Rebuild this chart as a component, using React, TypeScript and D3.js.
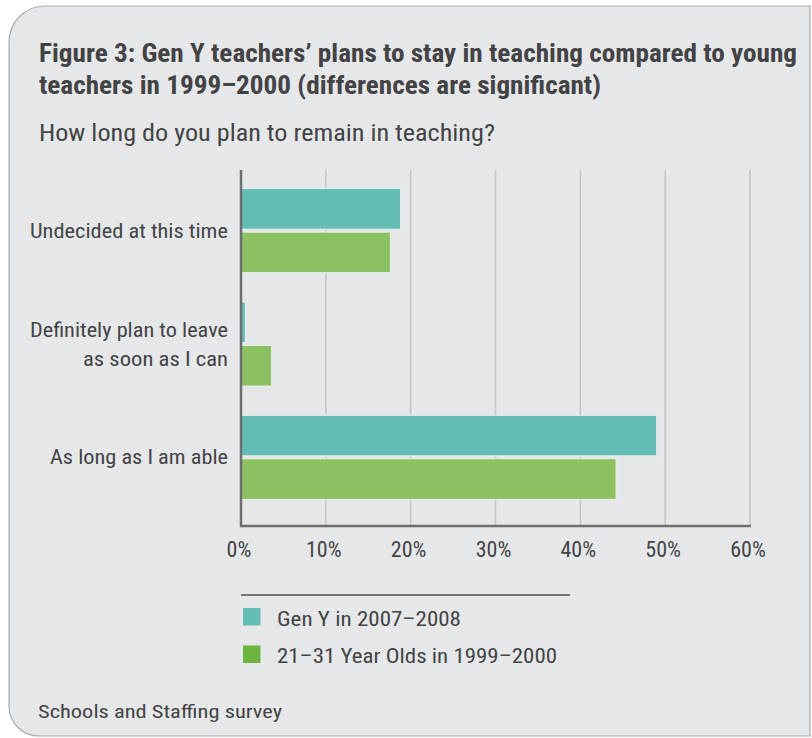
import * as d3 from "d3";
import React, { useEffect, RefObject } from "react";

const categories: string[] = [
	"Undecided at this time",
	"Definitely plan to leave as soon as I can",
	"As long as I am able",
];
const categoryLines: string[][] = [
	["Undecided at this time"],
	["Definitely plan to leave", "as soon as I can"],
	["As long as I am able"],
];
const categoryLens: number[][] = [[198], [198, 145], [178]];
const seriesKeys: string[] = ["genY", "olds"];
const seriesNames: string[] = ["Gen Y in 2007–2008", "21–31 Year Olds in 1999–2000"];
const genY: number[] = [18.8, 0.5, 49.0];
const olds: number[] = [17.6, 3.6, 44.2];
const xTicks: number[] = [0, 10, 20, 30, 40, 50, 60];

const FONT =
	"'Liberation Sans Narrow', 'Roboto Condensed', 'DejaVu Sans Condensed', 'Liberation Sans', sans-serif";

const App = () => {
	const ref: RefObject<HTMLDivElement> = React.createRef();

	useEffect(() => draw());

	const draw = () => {
		const width = 812;
		const height = 738;
		const barColors = ["#64bdb4", "#8bc160"];
		const legendColors = ["#64bdb4", "#6db43f"];
		const textColor = "#434345";

		d3.select(ref.current).selectAll("svg").remove();

		const svg = d3
			.select(ref.current)
			.append("svg")
			.attr("width", width)
			.attr("height", height)
			.style("position", "absolute")
			.style("left", "0px")
			.style("top", "0px")
			.style("background", "#ffffff")
			.style("font-family", FONT);

		// panel
		svg.append("path")
			.attr(
				"d",
				"M810,6 H45 A36,36 0 0 0 9,42 V706 A30,30 0 0 0 39,736 H810 Z"
			)
			.attr("fill", "#e6e7e8")
			.attr("stroke", "#a9abae")
			.attr("stroke-width", 1.2);

		const addText = (
			txt: string,
			x: number,
			y: number,
			size: number,
			len: number,
			weight: string,
			anchor: string
		) =>
			svg.append("text")
				.attr("x", x)
				.attr("y", y)
				.attr("font-size", size)
				.attr("font-weight", weight)
				.attr("fill", textColor)
				.attr("text-anchor", anchor)
				.attr("textLength", len)
				.attr("lengthAdjust", "spacingAndGlyphs")
				.text(txt);

		// titles
		addText(
			"Figure 3: Gen Y teachers’ plans to stay in teaching compared to young",
			39, 62, 25, 758, "bold", "start"
		);
		addText(
			"teachers in 1999–2000 (differences are significant)",
			39, 94, 25, 562, "bold", "start"
		);
		addText("How long do you plan to remain in teaching?", 39, 141, 24, 456, "normal", "start");

		// scales
		const xScale = d3.scaleLinear().domain([0, 60]).range([241, 750]);
		const yScale = d3
			.scaleBand()
			.domain(categories)
			.range([174, 514])
			.paddingInner(0);
		const top = 170;
		const bottom = 526;

		// gridlines
		svg.append("g")
			.selectAll("line")
			.data(xTicks.filter((t) => t > 0))
			.join("line")
			.attr("x1", (d) => xScale(d))
			.attr("x2", (d) => xScale(d))
			.attr("y1", top)
			.attr("y2", bottom)
			.attr("stroke", "#c5c6c8")
			.attr("stroke-width", 1.6);

		// bars
		const values = [genY, olds];
		categories.forEach((cat, i) => {
			const center = (yScale(cat) || 0) + yScale.bandwidth() / 2;
			const inner = d3
				.scaleBand()
				.domain(seriesKeys)
				.range([center - 42, center + 42])
				.paddingInner(0.07);
			seriesKeys.forEach((key, k) => {
				svg.append("rect")
					.attr("x", xScale(0))
					.attr("y", inner(key) || 0)
					.attr("width", xScale(values[k][i]) - xScale(0))
					.attr("height", inner.bandwidth())
					.attr("fill", barColors[k])
					.attr("stroke", "#f2f4f3")
					.attr("stroke-width", 0.8);
			});

			// category label
			const lines = categoryLines[i];
			const lh = 29;
			lines.forEach((ln, j) => {
				addText(
					ln,
					228,
					center + 7 + (j - (lines.length - 1) / 2) * lh,
					21,
					categoryLens[i][j],
					"normal",
					"end"
				);
			});
		});

		// axes
		svg.append("line")
			.attr("x1", xScale(0))
			.attr("x2", xScale(0))
			.attr("y1", top)
			.attr("y2", bottom + 1)
			.attr("stroke", "#6d6e71")
			.attr("stroke-width", 2.5);
		svg.append("line")
			.attr("x1", xScale(0) - 1)
			.attr("x2", xScale(60) + 1)
			.attr("y1", bottom)
			.attr("y2", bottom)
			.attr("stroke", "#6d6e71")
			.attr("stroke-width", 2.5);

		svg.append("g")
			.selectAll("text")
			.data(xTicks)
			.join("text")
			.attr("x", (d) => xScale(d) - 2)
			.attr("y", 557)
			.attr("text-anchor", "middle")
			.attr("font-size", 22)
			.attr("fill", textColor)
			.text((d) => d + "%");

		// legend
		svg.append("line")
			.attr("x1", 241)
			.attr("x2", 570)
			.attr("y1", 595)
			.attr("y2", 595)
			.attr("stroke", "#555557")
			.attr("stroke-width", 1.5);
		const legendLens = [184, 280];
		seriesNames.forEach((name, k) => {
			const y = 608 + k * 37.5;
			svg.append("rect")
				.attr("x", 243)
				.attr("y", y)
				.attr("width", 17.5)
				.attr("height", 17.5)
				.attr("fill", legendColors[k]);
			addText(name, 277, y + 17.5, 21, legendLens[k], "normal", "start");
		});

		// source
		addText("Schools and Staffing survey", 38, 718, 19, 244, "normal", "start");
	};

	return <div ref={ref}></div>;
};

export default App;
